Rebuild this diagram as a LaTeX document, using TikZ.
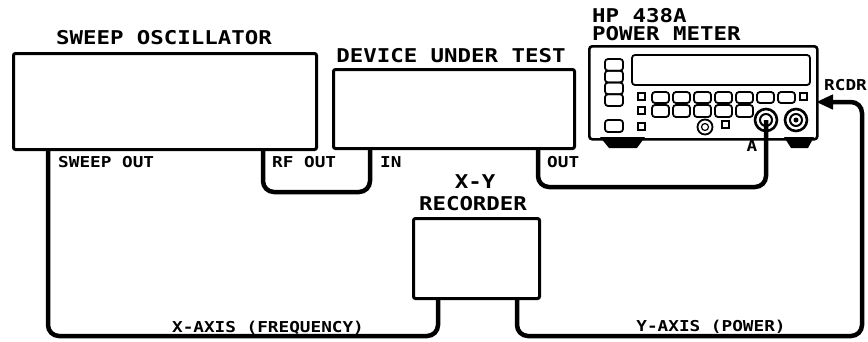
\documentclass[tikz,border=0pt]{standalone}
\usepackage{fontspec}
\newfontfamily\plotfont[FakeStretch=1.18]{DejaVu Sans Mono}
\usetikzlibrary{arrows.meta}
\begin{document}
\begin{tikzpicture}[x=1pt,y=-1pt,
  box/.style={draw, line width=3pt, rounded corners=2pt, inner sep=0pt, anchor=north west},
  cable/.style={line width=4.5pt, rounded corners=11pt},
  title/.style={font=\plotfont\bfseries\fontsize{19}{19}\selectfont, inner sep=0pt},
  lbl/.style={font=\plotfont\bfseries\fontsize{15}{15}\selectfont, inner sep=0pt},
  thinl/.style={line width=1.8pt},
  btn/.style={thinl, rounded corners=3pt}
]
\useasboundingbox (0,0) rectangle (868,341);

% boxes
\node[box, minimum width=303pt, minimum height=96pt] (osc) at (12,52) {};
\node[box, minimum width=241pt, minimum height=79pt] (dut) at (332,68) {};
\node[box, minimum width=126pt, minimum height=80pt] (rec) at (412,217) {};
\node[draw, line width=2.6pt, rounded corners=3pt, inner sep=0pt, anchor=north west,
      minimum width=228pt, minimum height=93pt] (pm) at (588,45) {};

% titles
\node[title, anchor=base] (t1) at (164,44) {SWEEP OSCILLATOR};
\node[title, anchor=base] (t2) at (451,62) {DEVICE UNDER TEST};
\node[title, anchor=base west] (t3) at (592,22) {HP 438A};
\node[title, anchor=base west] (t4) at (592,40) {POWER METER};
\node[title, anchor=base] (t5) at (475,188) {X-Y};
\node[title, anchor=base] (t6) at (473,210) {RECORDER};

% labels
\node[lbl, anchor=base west] (l1) at (58,167) {SWEEP OUT};
\node[lbl, anchor=base west] (l2) at (272,167) {RF OUT};
\node[lbl, anchor=base west] (l3) at (380,167) {IN};
\node[lbl, anchor=base west] (l4) at (547,167) {OUT};
\node[lbl, anchor=base] (l5) at (752,151) {A};
\node[lbl, anchor=base west] (l6) at (824,90) {RCDR};
\node[lbl, anchor=base] (l7) at (268,332) {X-AXIS (FREQUENCY)};
\node[lbl, anchor=base] (l8) at (711,331) {Y-AXIS (POWER)};

% power meter front panel
\draw[btn] (632,55) rectangle (810,85);
\foreach \i in {0,1,2,3} {
  \draw[btn] (605,{59+11.75*\i}) rectangle (623,{59+11.75*(\i+1)});
}
\draw[btn] (605,120) rectangle (623,132);
\draw[thinl] (638,93) rectangle (645,100);
\draw[thinl] (638,107) rectangle (645,114);
\draw[thinl] (638,123) rectangle (645,130);
\foreach \i in {0,...,6} {
  \draw[btn] ({652+21*\i},92) rectangle ({669+21*\i},103);
}
\foreach \i in {0,...,4} {
  \draw[btn] ({652+21*\i},105) rectangle ({669+21*\i},117);
}
\draw[thinl] (800,93) rectangle (807,100);
\draw[thinl] (722,121) rectangle (729,128);
\draw[thinl] (705,127) circle (7.5);
\draw[line width=1.2pt] (705,127) circle (3.5);
% feet
\fill (600,137) -- (645,137) -- (637,148) -- (609,148) -- cycle;
\fill (784,137) -- (814,137) -- (808,148) -- (791,148) -- cycle;
% input connectors
\coordinate (pma) at (766,120);
\coordinate (pmb) at (796,120);
\draw[line width=2.6pt] (pma) circle (11);
\draw[line width=2pt] (pma) circle (6);
\draw[line width=2.6pt] (pmb) circle (11);
\draw[line width=2pt] (pmb) circle (6);
\fill (pmb) circle (2.5);

% ports
\coordinate (sweepout) at (48,148);
\coordinate (rfout) at (263,148);
\coordinate (dutin) at (370,147);
\coordinate (dutout) at (538,147);
\coordinate (recx) at (438,297);
\coordinate (recy) at (517,297);
\coordinate (rcdr) at (816,102);

% cables
\draw[cable] (rfout) -- (263,192) -- (370,192) -- (dutin);
\draw[cable] (dutout) -- (538,187) -- (766,187) -- (pma);
\draw[cable] (sweepout) -- (48,336) -- (438,336) -- (recx);
\draw[cable, -{Triangle[length=17pt,width=14pt]}] (recy) -- (517,336) -- (862,336) -- (862,102) -- (rcdr);
\end{tikzpicture}
\end{document}
